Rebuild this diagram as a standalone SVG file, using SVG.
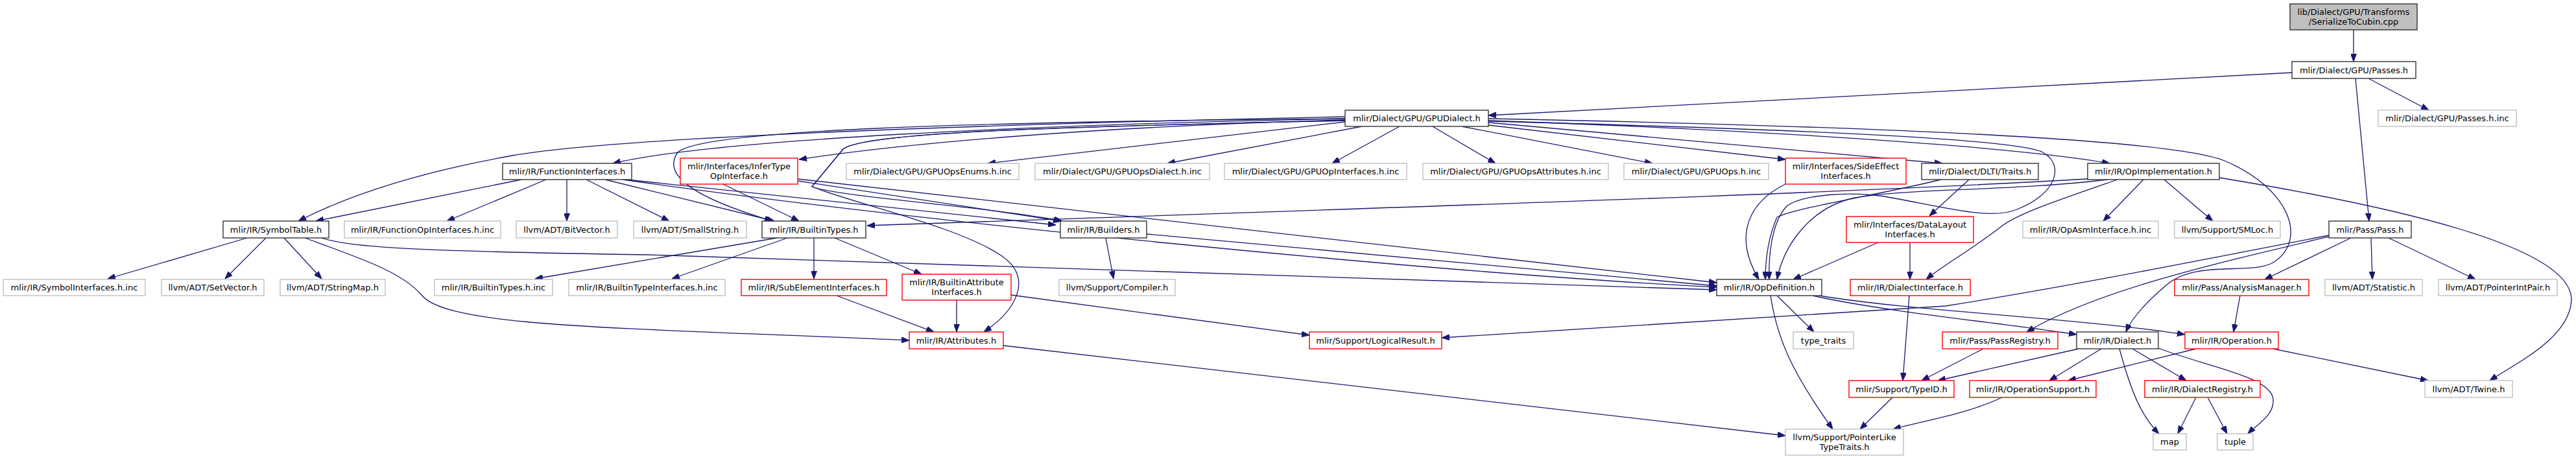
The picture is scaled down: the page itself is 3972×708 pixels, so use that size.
<svg xmlns="http://www.w3.org/2000/svg" width="3972" height="708" viewBox="0 0 3972 708">
<style>
rect{fill:#fff;stroke-width:1.4}
.k rect{stroke:#333}
.g rect{stroke:#bfbfbf}
.r rect{stroke:#ff0000}
.top rect{fill:#bfbfbf;stroke:#333}
text{font-family:"DejaVu Sans","Liberation Sans",sans-serif;font-size:13px;fill:#000;text-anchor:middle}
#edges path{fill:none;stroke:#191970;stroke-width:1.3;marker-end:url(#a)}
</style>
<defs>
<marker id="a" viewBox="0 0 12 9" refX="12" refY="4.5" markerWidth="12" markerHeight="9" markerUnits="userSpaceOnUse" orient="auto"><path d="M0,0L12,4.5L0,9z" fill="#191970" stroke="#191970" stroke-width="1"/></marker>
</defs>
<rect x="0" y="0" width="3972" height="708" style="fill:#fff;stroke:none"/>
<g id="edges">
<path d="M3629,46 L3629,95"/>
<path d="M3534,112 L2295,178"/>
<path d="M3652,121 L3745,170"/>
<path d="M3632,121 L3653,341"/>
<path d="M2074,180 C1500,192 950,212 790,240 C650,265 540,300 460,341"/>
<path d="M2074,183 C1600,192 1100,215 945,252"/>
<path d="M2074,185 C1700,195 1400,220 1232,246"/>
<path d="M2074,188 L1523,252"/>
<path d="M2100,195 L1800,252"/>
<path d="M2158,195 L2054,252"/>
<path d="M2209,195 L2306,252"/>
<path d="M2254,195 L2548,252"/>
<path d="M2295,193 L2753,246"/>
<path d="M2295,189 L2995,252"/>
<path d="M2295,186 C2700,200 3100,225 3253,252"/>
<path d="M2295,183 C2900,195 3350,215 3430,248 C3530,290 3560,370 3505,405 C3470,425 3385,400 3340,440 C3305,470 3285,495 3278,512"/>
<path d="M2295,187 C2800,200 3110,215 3150,235 C3185,255 3170,300 3110,323 C3070,340 3000,320 2906,303 C2850,295 2780,300 2755,318 C2730,345 2727,400 2728,431"/>
<path d="M2074,183 C1500,188 1080,200 1045,235 C1020,270 1070,305 1191,341"/>
<path d="M2074,186 C1600,196 1330,205 1300,230 L1252,288 C1300,305 1520,318 1638,341"/>
<path d="M2074,186 C1600,196 1330,205 1300,230 L1252,288 C1320,315 1480,350 1545,395 C1595,430 1565,480 1517,512"/>
<path d="M804,277 L487,341"/>
<path d="M842,277 L689,341"/>
<path d="M874,277 L874,341"/>
<path d="M904,277 L1032,341"/>
<path d="M933,277 L1194,341"/>
<path d="M966,277 L1628,347"/>
<path d="M960,277 C1400,340 2200,420 2647,443"/>
<path d="M381,367 L166,430"/>
<path d="M410,367 L347,430"/>
<path d="M438,367 L496,430"/>
<path d="M470,367 C560,400 620,420 650,455 C690,505 950,505 1402,525"/>
<path d="M495,367 C540,380 600,387 1000,393 L2647,447"/>
<path d="M1115,284 L1232,341"/>
<path d="M1230,279 L1636,341"/>
<path d="M1230,276 L2647,436"/>
<path d="M1198,367 L825,430"/>
<path d="M1214,367 L1036,430"/>
<path d="M1255,367 L1255,430"/>
<path d="M1287,367 L1421,423"/>
<path d="M1705,367 L1717,430"/>
<path d="M1768,361 L2647,441"/>
<path d="M3219,276 C2800,300 2200,318 1337,348"/>
<path d="M1290,456 L1440,512"/>
<path d="M1475,463 L1475,512"/>
<path d="M1559,455 L2019,517"/>
<path d="M1547,533 L2753,672"/>
<path d="M2753,284 C2700,310 2670,360 2712,431"/>
<path d="M2993,277 C2900,300 2770,320 2740,335 C2725,370 2722,405 2722,431"/>
<path d="M3036,277 L2975,333"/>
<path d="M3250,277 C3100,295 2950,290 2860,305 C2790,320 2750,380 2740,431"/>
<path d="M3265,277 C3170,310 3110,330 3085,350 C3040,385 2995,410 2970,431"/>
<path d="M3305,277 L3243,341"/>
<path d="M3337,277 L3412,341"/>
<path d="M3422,274 C3700,320 3960,380 3965,460 C3965,520 3880,560 3839,587"/>
<path d="M2896,374 L2765,431"/>
<path d="M2945,374 L2945,431"/>
<path d="M2944,456 L2934,587"/>
<path d="M2740,456 L2797,512"/>
<path d="M2730,456 C2740,520 2760,570 2826,662"/>
<path d="M2795,456 C2900,480 3100,500 3202,516"/>
<path d="M2805,456 C2950,480 3200,490 3369,516"/>
<path d="M3591,363 C3400,400 3200,440 3000,472 L2223,521"/>
<path d="M3591,365 C3400,410 3230,450 3125,512"/>
<path d="M3625,367 L3492,431"/>
<path d="M3656,367 L3658,431"/>
<path d="M3683,367 L3817,431"/>
<path d="M3454,456 L3444,512"/>
<path d="M3205,538 L2988,587"/>
<path d="M3240,538 L3160,587"/>
<path d="M3268,538 C3285,600 3300,640 3329,669"/>
<path d="M3288,538 L3371,587"/>
<path d="M3328,537 C3400,565 3500,580 3505,615 C3508,640 3480,655 3466,669"/>
<path d="M3386,538 L3189,587"/>
<path d="M3505,538 L3744,587"/>
<path d="M3058,538 L2963,587"/>
<path d="M2918,613 L2868,662"/>
<path d="M3087,613 C3030,640 2960,650 2919,662"/>
<path d="M3386,613 L3358,669"/>
<path d="M3404,613 L3434,669"/>
</g>
<g id="n_cubin" class="top"><rect x="3531" y="6" width="196" height="40"/><text x="3629" y="23">lib/Dialect/GPU/Transforms</text><text x="3629" y="38">/SerializeToCubin.cpp</text></g>
<g id="n_passes" class="k"><rect x="3534" y="95" width="191" height="26"/><text x="3629.5" y="112.5">mlir/Dialect/GPU/Passes.h</text></g>
<g id="n_passesinc" class="g"><rect x="3667" y="170" width="213" height="25"/><text x="3773.5" y="187">mlir/Dialect/GPU/Passes.h.inc</text></g>
<g id="n_gpudialect" class="k"><rect x="2074" y="170" width="221" height="25"/><text x="2184.5" y="187">mlir/Dialect/GPU/GPUDialect.h</text></g>
<g id="n_pass" class="k"><rect x="3591" y="341" width="127" height="26"/><text x="3654.5" y="358.5">mlir/Pass/Pass.h</text></g>
<g id="n_funcif" class="k"><rect x="775" y="252" width="199" height="25"/><text x="874.5" y="269">mlir/IR/FunctionInterfaces.h</text></g>
<g id="n_infertype" class="r"><rect x="1049" y="244" width="181" height="40"/><text x="1139.5" y="261">mlir/Interfaces/InferType</text><text x="1139.5" y="276">OpInterface.h</text></g>
<g id="n_enums" class="g"><rect x="1305" y="252" width="266" height="25"/><text x="1438" y="269">mlir/Dialect/GPU/GPUOpsEnums.h.inc</text></g>
<g id="n_dialectinc" class="g"><rect x="1596" y="252" width="269" height="25"/><text x="1730.5" y="269">mlir/Dialect/GPU/GPUOpsDialect.h.inc</text></g>
<g id="n_opifinc" class="g"><rect x="1888" y="252" width="281" height="25"/><text x="2028.5" y="269">mlir/Dialect/GPU/GPUOpInterfaces.h.inc</text></g>
<g id="n_attrinc" class="g"><rect x="2194" y="252" width="286" height="25"/><text x="2337" y="269">mlir/Dialect/GPU/GPUOpsAttributes.h.inc</text></g>
<g id="n_opsinc" class="g"><rect x="2504" y="252" width="223" height="25"/><text x="2615.5" y="269">mlir/Dialect/GPU/GPUOps.h.inc</text></g>
<g id="n_sideeffect" class="r"><rect x="2753" y="244" width="186" height="40"/><text x="2846" y="261">mlir/Interfaces/SideEffect</text><text x="2846" y="276">Interfaces.h</text></g>
<g id="n_dlti" class="k"><rect x="2963" y="252" width="180" height="25"/><text x="3053" y="269">mlir/Dialect/DLTI/Traits.h</text></g>
<g id="n_opimpl" class="k"><rect x="3219" y="252" width="203" height="25"/><text x="3320.5" y="269">mlir/IR/OpImplementation.h</text></g>
<g id="n_symtab" class="k"><rect x="344" y="341" width="163" height="26"/><text x="425.5" y="358.5">mlir/IR/SymbolTable.h</text></g>
<g id="n_funcopinc" class="g"><rect x="531" y="341" width="241" height="26"/><text x="651.5" y="358.5">mlir/IR/FunctionOpInterfaces.h.inc</text></g>
<g id="n_bitvec" class="g"><rect x="796" y="341" width="156" height="26"/><text x="874" y="358.5">llvm/ADT/BitVector.h</text></g>
<g id="n_smallstr" class="g"><rect x="977" y="341" width="174" height="26"/><text x="1064" y="358.5">llvm/ADT/SmallString.h</text></g>
<g id="n_builtintypes" class="k"><rect x="1175" y="341" width="160" height="26"/><text x="1255" y="358.5">mlir/IR/BuiltinTypes.h</text></g>
<g id="n_builders" class="k"><rect x="1635" y="341" width="133" height="26"/><text x="1701.5" y="358.5">mlir/IR/Builders.h</text></g>
<g id="n_datalayout" class="r"><rect x="2847" y="334" width="196" height="40"/><text x="2945" y="351">mlir/Interfaces/DataLayout</text><text x="2945" y="366">Interfaces.h</text></g>
<g id="n_opasminc" class="g"><rect x="3119" y="341" width="209" height="26"/><text x="3223.5" y="358.5">mlir/IR/OpAsmInterface.h.inc</text></g>
<g id="n_smloc" class="g"><rect x="3353" y="341" width="163" height="26"/><text x="3434.5" y="358.5">llvm/Support/SMLoc.h</text></g>
<g id="n_symifinc" class="g"><rect x="5" y="431" width="219" height="25"/><text x="114.5" y="448">mlir/IR/SymbolInterfaces.h.inc</text></g>
<g id="n_setvec" class="g"><rect x="249" y="431" width="158" height="25"/><text x="328" y="448">llvm/ADT/SetVector.h</text></g>
<g id="n_strmap" class="g"><rect x="432" y="431" width="162" height="25"/><text x="513" y="448">llvm/ADT/StringMap.h</text></g>
<g id="n_btinc" class="g"><rect x="670" y="431" width="182" height="25"/><text x="761" y="448">mlir/IR/BuiltinTypes.h.inc</text></g>
<g id="n_btifinc" class="g"><rect x="877" y="431" width="241" height="25"/><text x="997.5" y="448">mlir/IR/BuiltinTypeInterfaces.h.inc</text></g>
<g id="n_subelem" class="r"><rect x="1143" y="431" width="224" height="25"/><text x="1255" y="448">mlir/IR/SubElementInterfaces.h</text></g>
<g id="n_battrif" class="r"><rect x="1391" y="423" width="168" height="40"/><text x="1475" y="440">mlir/IR/BuiltinAttribute</text><text x="1475" y="455">Interfaces.h</text></g>
<g id="n_compiler" class="g"><rect x="1633" y="431" width="179" height="25"/><text x="1722.5" y="448">llvm/Support/Compiler.h</text></g>
<g id="n_opdef" class="k"><rect x="2647" y="431" width="162" height="25"/><text x="2728" y="448">mlir/IR/OpDefinition.h</text></g>
<g id="n_dialectif" class="r"><rect x="2853" y="431" width="185" height="25"/><text x="2945.5" y="448">mlir/IR/DialectInterface.h</text></g>
<g id="n_analysis" class="r"><rect x="3353" y="431" width="207" height="25"/><text x="3456.5" y="448">mlir/Pass/AnalysisManager.h</text></g>
<g id="n_statistic" class="g"><rect x="3585" y="431" width="150" height="25"/><text x="3660" y="448">llvm/ADT/Statistic.h</text></g>
<g id="n_ptrintpair" class="g"><rect x="3760" y="431" width="183" height="25"/><text x="3851.5" y="448">llvm/ADT/PointerIntPair.h</text></g>
<g id="n_attributes" class="r"><rect x="1402" y="512" width="145" height="26"/><text x="1474.5" y="529.5">mlir/IR/Attributes.h</text></g>
<g id="n_logical" class="r"><rect x="2019" y="512" width="204" height="26"/><text x="2121" y="529.5">mlir/Support/LogicalResult.h</text></g>
<g id="n_typetraits" class="g"><rect x="2765" y="512" width="93" height="26"/><text x="2811.5" y="529.5">type_traits</text></g>
<g id="n_passreg" class="r"><rect x="2995" y="512" width="178" height="26"/><text x="3084" y="529.5">mlir/Pass/PassRegistry.h</text></g>
<g id="n_dialect" class="k"><rect x="3202" y="512" width="126" height="26"/><text x="3265" y="529.5">mlir/IR/Dialect.h</text></g>
<g id="n_operation" class="r"><rect x="3369" y="512" width="144" height="26"/><text x="3441" y="529.5">mlir/IR/Operation.h</text></g>
<g id="n_typeid" class="r"><rect x="2851" y="587" width="162" height="26"/><text x="2932" y="604.5">mlir/Support/TypeID.h</text></g>
<g id="n_opsupport" class="r"><rect x="3037" y="587" width="195" height="26"/><text x="3134.5" y="604.5">mlir/IR/OperationSupport.h</text></g>
<g id="n_dialectreg" class="r"><rect x="3307" y="587" width="178" height="26"/><text x="3396" y="604.5">mlir/IR/DialectRegistry.h</text></g>
<g id="n_twine" class="g"><rect x="3739" y="587" width="135" height="26"/><text x="3806.5" y="604.5">llvm/ADT/Twine.h</text></g>
<g id="n_ptrlike" class="g"><rect x="2753" y="662" width="182" height="40"/><text x="2844" y="679">llvm/Support/PointerLike</text><text x="2844" y="694">TypeTraits.h</text></g>
<g id="n_map" class="g"><rect x="3320" y="669" width="51" height="25"/><text x="3345.5" y="686">map</text></g>
<g id="n_tuple" class="g"><rect x="3419" y="669" width="55" height="25"/><text x="3446.5" y="686">tuple</text></g>
</svg>
